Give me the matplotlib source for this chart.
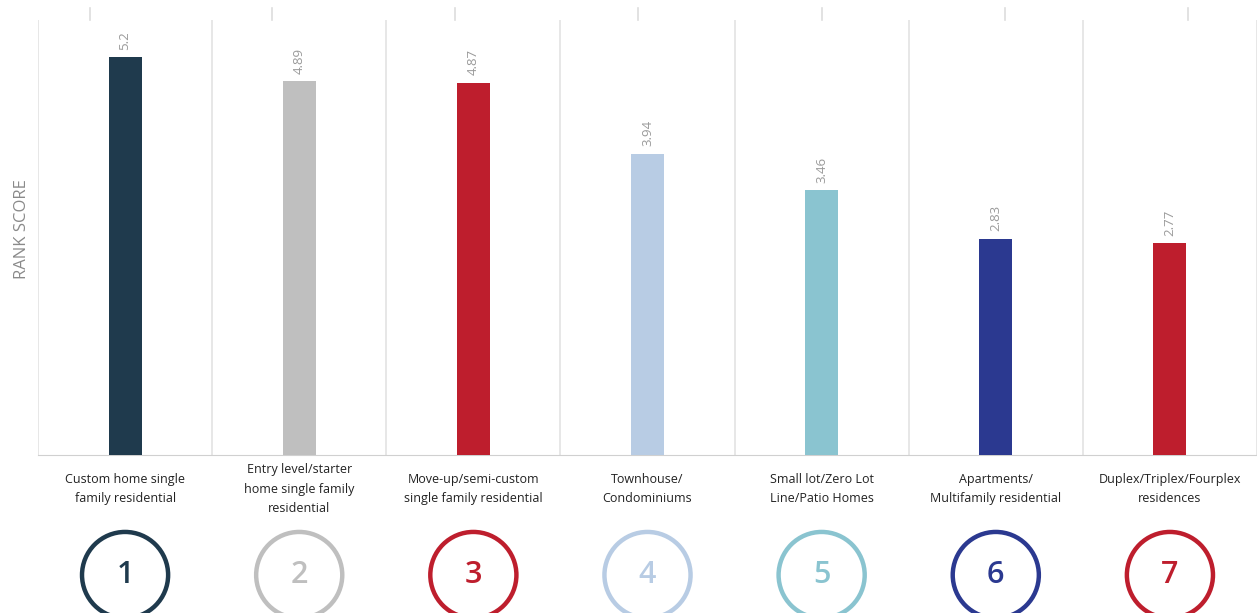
import numpy as np
import matplotlib.pyplot as plt
from matplotlib.transforms import blended_transform_factory

OUT_PNG = "out.png"

categories = [
    "Custom home single\nfamily residential",
    "Entry level/starter\nhome single family\nresidential",
    "Move-up/semi-custom\nsingle family residential",
    "Townhouse/\nCondominiums",
    "Small lot/Zero Lot\nLine/Patio Homes",
    "Apartments/\nMultifamily residential",
    "Duplex/Triplex/Fourplex\nresidences",
]
scores = [5.2, 4.89, 4.87, 3.94, 3.46, 2.83, 2.77]
score_labels = ["5.2", "4.89", "4.87", "3.94", "3.46", "2.83", "2.77"]
ranks = ["1", "2", "3", "4", "5", "6", "7"]
colors = ["#1f3a4d", "#bfbfbf", "#be1e2d", "#b8cce4", "#8ac4d0", "#2b3990", "#be1e2d"]

plt.rcParams['font.family'] = ['Open Sans', 'DejaVu Sans']

fig = plt.figure(figsize=(12.57, 6.13), dpi=100)
ax = fig.add_axes([38/1257, 1-455/613, 1-38/1257, (455-20)/613])

x = np.arange(len(scores))
ax.bar(x, scores, width=0.19, color=colors, zorder=3)
ax.set_xlim(-0.5, len(scores)-0.5)
ax.set_ylim(0, 5.69)

# vertical separators between categories
for b in np.arange(-0.5, len(scores)+0.5, 1):
    ax.axvline(b, color="#e3e3e3", lw=1.2, zorder=1)

for s in ["top", "right", "left"]:
    ax.spines[s].set_visible(False)
ax.spines["bottom"].set_color("#d0d0d0")
ax.set_xticks([])
ax.set_yticks([])

# value labels
for xi, v, lab in zip(x, scores, score_labels):
    ax.text(xi, v + 0.1, lab, rotation=90, ha="center", va="bottom",
            fontsize=9.5, color="#9a9a9a")

ax.text(-0.013, 0.52, "RANK SCORE", transform=ax.transAxes,
        rotation=90, ha="center", va="center", fontsize=12, color="#8a8a8a")

tr = blended_transform_factory(ax.transData, fig.transFigure)
# category labels
for xi, c in zip(x, categories):
    ax.text(xi, 1-489/613, c, transform=tr, ha="center", va="center",
            fontsize=9, color="#222222", linespacing=1.6, clip_on=False)

# rank circles
ax.scatter(x, [1-575/613]*len(x), s=62**2, facecolors="white", edgecolors=colors,
           linewidths=3.2, transform=tr, clip_on=False, zorder=5)
for xi, r, c in zip(x, ranks, colors):
    ax.text(xi, 1-575/613, r, transform=tr, ha="center", va="center",
            fontsize=22, color=c, fontweight="semibold", clip_on=False, zorder=6)

# small marks at the top edge
for px in [90, 272, 455, 638, 822, 1005, 1188]:
    fig.add_artist(plt.Line2D([px/1257, px/1257], [1-8/613, 1-20/613],
                              transform=fig.transFigure, color="#dddddd", lw=1.2))

fig.savefig(OUT_PNG, dpi=100)
plt.close(fig)
